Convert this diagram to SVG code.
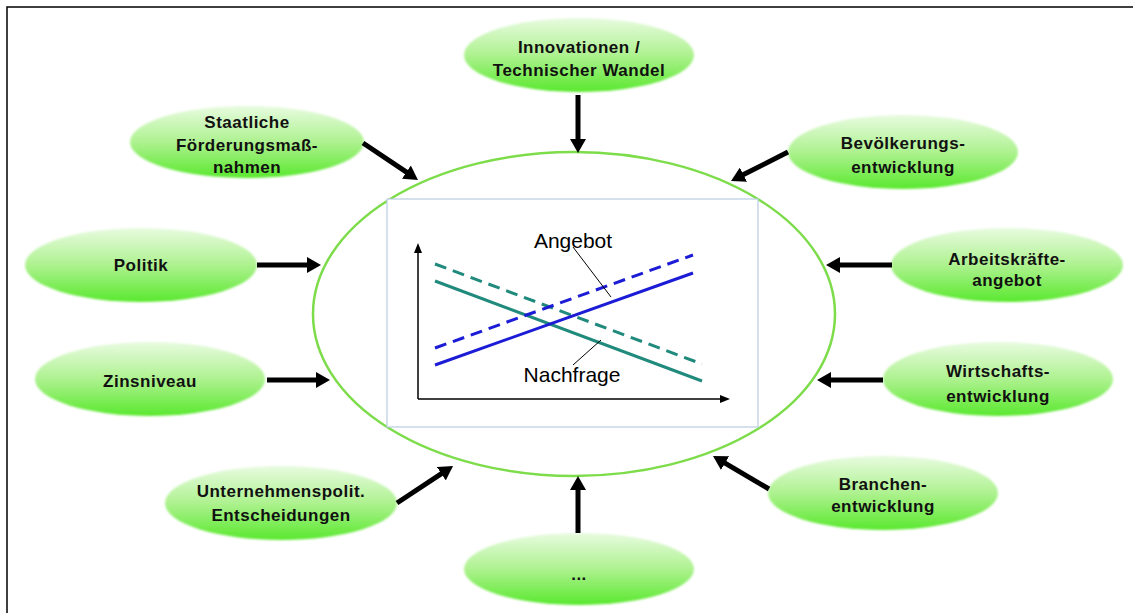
<svg xmlns="http://www.w3.org/2000/svg" width="1136" height="613" viewBox="0 0 1136 613">
<style>
.node{fill:url(#ng);filter:url(#soft)}
.lbl{font-family:"Liberation Sans",Arial,sans-serif;font-weight:bold;font-size:17px;letter-spacing:0.5px;fill:#111;text-anchor:middle}
.con{stroke:#000;stroke-width:5;fill:none;marker-end:url(#ah)}
.axis{stroke:#000;stroke-width:1.5;fill:none;marker-end:url(#sa)}
.chartlbl{font-family:"Liberation Sans",Arial,sans-serif;font-size:21px;fill:#000;text-anchor:middle}
.teal{stroke:#208a7c;stroke-width:3;fill:none}
.blue{stroke:#1c1cd6;stroke-width:3;fill:none}
.dash{stroke-dasharray:12 7}
</style>
<defs>
<linearGradient id="ng" x1="0" y1="0" x2="0" y2="1">
<stop offset="0" stop-color="#e8fbe0"/>
<stop offset="0.5" stop-color="#aef290"/>
<stop offset="1" stop-color="#5ae82e"/>
</linearGradient>
<filter id="soft" x="-5%" y="-10%" width="110%" height="120%">
<feGaussianBlur stdDeviation="1"/>
</filter>
<marker id="ah" viewBox="0 0 14 16" refX="1" refY="8" markerWidth="14" markerHeight="16" markerUnits="userSpaceOnUse" orient="auto">
<path d="M0,0 L14,8 L0,16 z" fill="#000"/>
</marker>
<marker id="sa" viewBox="0 0 10 8" refX="1" refY="4" markerWidth="10" markerHeight="8" markerUnits="userSpaceOnUse" orient="auto">
<path d="M0,0 L10,4 L0,8 z" fill="#000"/>
</marker>
</defs>
<rect x="0" y="0" width="1136" height="613" fill="#fff"/>
<path d="M7,613 V7 H1133" fill="none" stroke="#000" stroke-width="1.5"/>

<g id="center">
<ellipse cx="574" cy="314" rx="261" ry="162" fill="#fff" stroke="#7ddc4a" stroke-width="2.5"/>
<rect x="387" y="199" width="371" height="228" fill="#fff" stroke="#b8cde0" stroke-width="1.2"/>
<path class="axis" d="M418,399 V252"/>
<path class="axis" d="M418,399 H721"/>
<line class="teal dash" x1="435" y1="264" x2="702" y2="364"/>
<line class="teal" x1="435" y1="281" x2="702" y2="381"/>
<line class="blue dash" x1="435" y1="348" x2="693" y2="255"/>
<line class="blue" x1="435" y1="365" x2="693" y2="273"/>
<line x1="573" y1="247" x2="611" y2="297" stroke="#000" stroke-width="1"/>
<line x1="573" y1="365" x2="601" y2="340" stroke="#000" stroke-width="1"/>
<text class="chartlbl" x="573" y="248">Angebot</text>
<text class="chartlbl" x="572" y="382">Nachfrage</text>
</g>

<g id="n-innovationen">
<ellipse class="node" cx="579" cy="55" rx="115" ry="37"/>
<text class="lbl" x="579" y="53">Innovationen /</text>
<text class="lbl" x="579" y="76">Technischer Wandel</text>
</g>
<g id="n-staatliche">
<ellipse class="node" cx="247" cy="142" rx="117" ry="36"/>
<text class="lbl" x="247" y="128">Staatliche</text>
<text class="lbl" x="247" y="151">Förderungsmaß-</text>
<text class="lbl" x="247" y="173">nahmen</text>
</g>
<g id="n-bevoelkerung">
<ellipse class="node" cx="903" cy="152" rx="115" ry="37"/>
<text class="lbl" x="903" y="149">Bevölkerungs-</text>
<text class="lbl" x="903" y="173">entwicklung</text>
</g>
<g id="n-politik">
<ellipse class="node" cx="141" cy="265" rx="116" ry="37"/>
<text class="lbl" x="141" y="271">Politik</text>
</g>
<g id="n-zinsniveau">
<ellipse class="node" cx="150" cy="379" rx="115" ry="37"/>
<text class="lbl" x="150" y="387">Zinsniveau</text>
</g>
<g id="n-arbeit">
<ellipse class="node" cx="1007" cy="265" rx="116" ry="37"/>
<text class="lbl" x="1007" y="265">Arbeitskräfte-</text>
<text class="lbl" x="1007" y="286">angebot</text>
</g>
<g id="n-wirtschaft">
<ellipse class="node" cx="998" cy="379" rx="115" ry="37"/>
<text class="lbl" x="998" y="377">Wirtschafts-</text>
<text class="lbl" x="998" y="402">entwicklung</text>
</g>
<g id="n-unternehmen">
<ellipse class="node" cx="281" cy="503" rx="116" ry="37"/>
<text class="lbl" x="281" y="497">Unternehmenspolit.</text>
<text class="lbl" x="281" y="521">Entscheidungen</text>
</g>
<g id="n-dots">
<ellipse class="node" cx="579" cy="569" rx="115" ry="36"/>
<text class="lbl" x="579" y="580">...</text>
</g>
<g id="n-branchen">
<ellipse class="node" cx="883" cy="493" rx="115" ry="37"/>
<text class="lbl" x="883" y="490">Branchen-</text>
<text class="lbl" x="883" y="512">entwicklung</text>
</g>

<g id="connectors">
<line class="con" x1="578" y1="95" x2="578" y2="140"/>
<line class="con" x1="363" y1="143" x2="407.2" y2="172.7"/>
<line class="con" x1="788" y1="152" x2="742.6" y2="175.1"/>
<line class="con" x1="257" y1="265" x2="308" y2="265"/>
<line class="con" x1="267" y1="380" x2="317" y2="380"/>
<line class="con" x1="892" y1="265" x2="839" y2="265"/>
<line class="con" x1="883" y1="380" x2="830" y2="380"/>
<line class="con" x1="397" y1="503" x2="442.2" y2="473.2"/>
<line class="con" x1="578" y1="533" x2="578" y2="489"/>
<line class="con" x1="769" y1="489" x2="724.2" y2="462.6"/>
</g>
</svg>
